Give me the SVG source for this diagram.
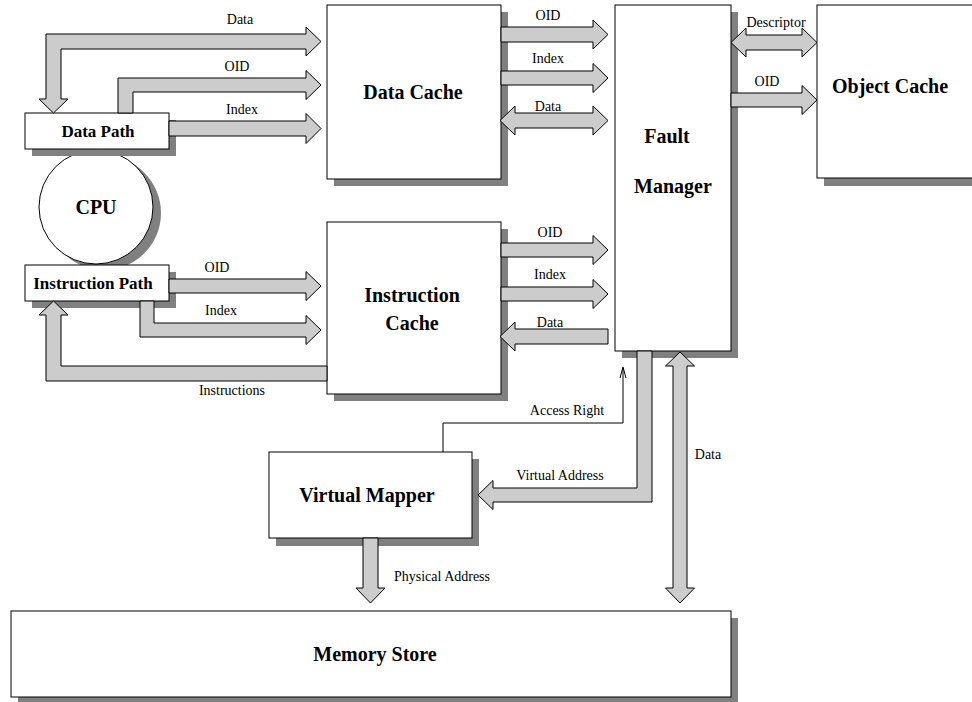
<svg xmlns="http://www.w3.org/2000/svg" width="972" height="702" viewBox="0 0 972 702">
<style>
.box{fill:#fff;stroke:#000;stroke-width:1}
.sh{fill:#808080}
.ar{fill:#ccc;stroke:#000;stroke-width:1;stroke-linejoin:miter}
.t{font-family:"Liberation Serif","Times New Roman",serif;font-weight:bold;font-size:20px;text-anchor:middle;fill:#000}
.ts{font-family:"Liberation Serif","Times New Roman",serif;font-weight:bold;font-size:17px;text-anchor:middle;fill:#000}
.l{font-family:"Liberation Serif","Times New Roman",serif;font-size:14px;text-anchor:middle;fill:#000}
</style>
<rect width="972" height="702" fill="#fff"/>
<g id="cpu">
<circle class="sh" cx="104" cy="213" r="57"/>
<circle class="box" cx="96" cy="207" r="57"/>
<text class="t" x="96" y="214">CPU</text>
</g>
<g id="data-path">
<rect class="sh" x="32" y="120" width="144" height="36"/>
<rect class="box" x="25" y="113" width="144" height="36"/>
<text class="ts" x="98" y="137">Data Path</text>
</g>
<g id="instruction-path">
<rect class="sh" x="32" y="272" width="144" height="36"/>
<rect class="box" x="25" y="265" width="144" height="36"/>
<text class="ts" x="93" y="289">Instruction Path</text>
</g>
<g id="data-cache">
<rect class="sh" x="334" y="12" width="174" height="174"/>
<rect class="box" x="327" y="5" width="174" height="174"/>
<text class="t" x="413" y="99">Data Cache</text>
</g>
<g id="instruction-cache">
<rect class="sh" x="334" y="229" width="174" height="172"/>
<rect class="box" x="327" y="222" width="174" height="172"/>
<text class="t" x="412" y="302">Instruction</text>
<text class="t" x="412" y="330">Cache</text>
</g>
<g id="fault-manager">
<rect class="sh" x="622" y="12" width="116" height="346"/>
<rect class="box" x="615" y="5" width="116" height="346"/>
<text class="t" x="667" y="143">Fault</text>
<text class="t" x="673" y="193">Manager</text>
</g>
<g id="object-cache">
<rect class="sh" x="824" y="12" width="160" height="174"/>
<rect class="box" x="817" y="5" width="170" height="173"/>
<text class="t" x="890" y="93">Object Cache</text>
</g>
<g id="virtual-mapper">
<rect class="sh" x="276" y="459" width="203" height="87"/>
<rect class="box" x="269" y="452" width="203" height="86"/>
<text class="t" x="367" y="502">Virtual Mapper</text>
</g>
<g id="memory-store">
<rect class="sh" x="18" y="618" width="720" height="86"/>
<rect class="box" x="11" y="611" width="720" height="86"/>
<text class="t" x="375" y="661">Memory Store</text>
</g>
<g id="connectors">
<polygon class="ar" points="46,34 306,34 306,27 321,41.5 306,56 306,49 61,49 61,99 68,99 53.5,113 39,99 46,99"/>
<polygon class="ar" points="118,113 118,78 306,78 306,70.5 321,85 306,99.5 306,92 133,92 133,113"/>
<polygon class="ar" points="169,121 306,121 306,113.5 321,128.5 306,143.5 306,136 169,136"/>
<polygon class="ar" points="169,279 306,279 306,271.5 321,286 306,300.5 306,293 169,293"/>
<polygon class="ar" points="140,301 140,337 306,337 306,344.5 321,330 306,315.5 306,323 154,323 154,301"/>
<polygon class="ar" points="327,366 61,366 61,315 68,315 53.5,301 39,315 46,315 46,381 327,381"/>
<polygon class="ar" points="501,27 593,27 593,20 608,34.5 593,49 593,42 501,42"/>
<polygon class="ar" points="501,71 593,71 593,63.5 608,78 593,92.5 593,85 501,85"/>
<polygon class="ar" points="500,120.5 515,106 515,113 593,113 593,106 608,120.5 593,135 593,128 515,128 515,135"/>
<polygon class="ar" points="501,243 593,243 593,235.5 608,250 593,264.5 593,257 501,257"/>
<polygon class="ar" points="501,287 593,287 593,279.5 608,294 593,308.5 593,301 501,301"/>
<polygon class="ar" points="608,329 515,329 515,322 500,336.5 515,351 515,344 608,344"/>
<polygon class="ar" points="731,42.5 746,28 746,35 802,35 802,28 817,42.5 802,57 802,50 746,50 746,57"/>
<polygon class="ar" points="731,93 802,93 802,85.5 817,100 802,114.5 802,107 731,107"/>
<polygon class="ar" points="637,351 637,488 493,488 493,480.5 478,495 493,509.5 493,502 652,502 652,351"/>
<polygon class="ar" points="680,352 694.5,366 687,366 687,588 694.5,588 680,603 665.5,588 673,588 673,366 665.5,366"/>
<polygon class="ar" points="363,538 363,588 356,588 370.5,603 385,588 378,588 378,538"/>
<polyline points="443,452 443,423 623,423 623,368" fill="none" stroke="#000" stroke-width="1"/>
<polyline points="620,378 623,367 626,378" fill="none" stroke="#000" stroke-width="1"/>
</g>
<g id="labels">
<text class="l" x="240" y="24">Data</text>
<text class="l" x="237" y="71">OID</text>
<text class="l" x="242" y="114">Index</text>
<text class="l" x="548" y="20">OID</text>
<text class="l" x="548" y="63">Index</text>
<text class="l" x="548" y="111">Data</text>
<text class="l" x="776" y="27">Descriptor</text>
<text class="l" x="767" y="86">OID</text>
<text class="l" x="217" y="272">OID</text>
<text class="l" x="221" y="315">Index</text>
<text class="l" x="232" y="395">Instructions</text>
<text class="l" x="550" y="237">OID</text>
<text class="l" x="550" y="279">Index</text>
<text class="l" x="550" y="327">Data</text>
<text class="l" x="567" y="415">Access Right</text>
<text class="l" x="560" y="480">Virtual Address</text>
<text class="l" x="708" y="459">Data</text>
<text class="l" x="442" y="581">Physical Address</text>
</g>
</svg>
